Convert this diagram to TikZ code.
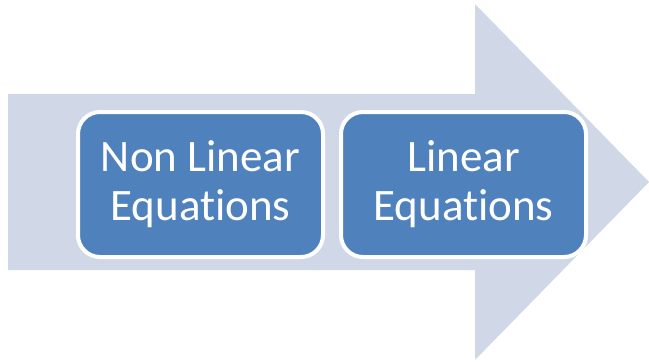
\documentclass[tikz,border=0pt]{standalone}
\usepackage{fontspec}
\setmainfont[Ligatures=CommonOff]{Carlito}
\definecolor{arrowfill}{HTML}{D0D8E8}
\definecolor{boxfill}{HTML}{4F81BD}
\begin{document}
\begin{tikzpicture}[x=1pt,y=-1pt,
  stagebox/.style={draw=white, line width=4pt, fill=boxfill, rounded corners=22pt,
    minimum width=245pt, minimum height=145pt, text=white, align=center, inner sep=0pt,
    font=\fontsize{45}{49}\selectfont}]
\useasboundingbox (0,0) rectangle (649,364);
\fill[arrowfill] (8,94) -- (475,94) -- (475,4) -- (649,182) -- (475,360) -- (475,270) -- (8,270) -- cycle;
\node[stagebox] (nl) at (200.5,184.5) {Non Linear\\Equations};
\node[stagebox] (l) at (463.5,184.5) {Linear\\Equations};
\end{tikzpicture}
\end{document}
